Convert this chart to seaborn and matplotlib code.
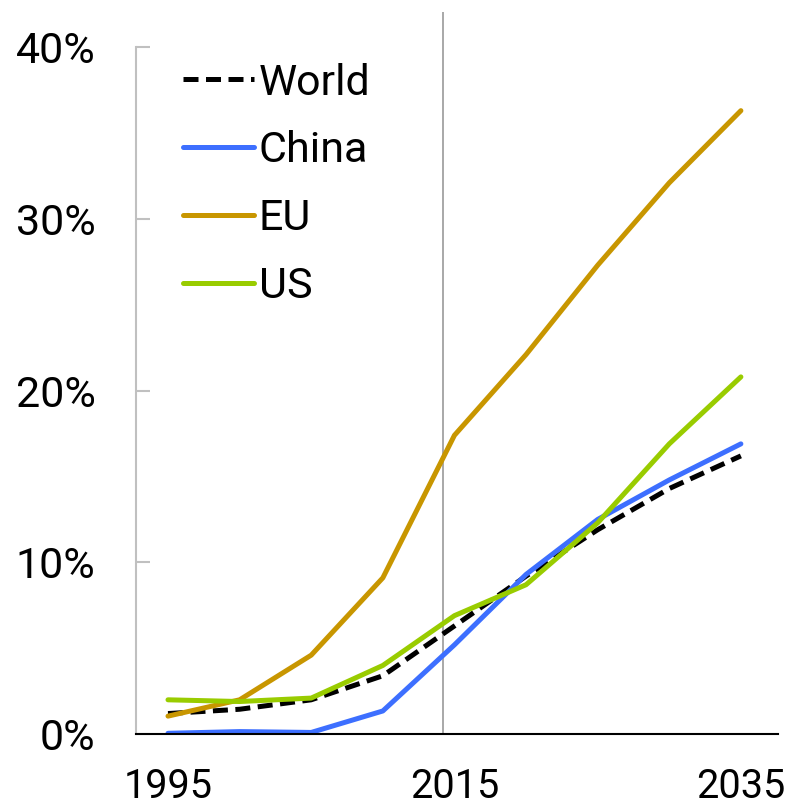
import matplotlib
matplotlib.use("Agg")
from matplotlib import pyplot as plt
import numpy as np
import pandas as pd
import seaborn as sb

#Data
years = [1995, 2000, 2005, 2010, 2015, 2020, 2025, 2030, 2035]
world = [1.2, 1.45, 2.0, 3.4, 6.3, 9.2, 11.9, 14.3, 16.2]
china = [0.05, 0.15, 0.1, 1.35, 5.2, 9.3, 12.5, 14.8, 16.9]
eu = [1.05, 2.0, 4.6, 9.1, 17.4, 22.1, 27.3, 32.1, 36.3]
us = [2.0, 1.9, 2.1, 4.0, 6.9, 8.7, 12.3, 16.9, 20.8]
series_names = ["World", "China", "EU", "US"]
y_ticks = [0, 10, 20, 30, 40]
x_ticks = [1995, 2015, 2035]
marker_year = 2014.2

df = pd.DataFrame({"year": years * 4,
                   "share": world + china + eu + us,
                   "region": np.repeat(series_names, len(years))})

sb.set_theme(style="white")
plt.rcParams['font.family'] = ['Roboto', 'DejaVu Sans']
plt.rcParams['text.color'] = 'black'

palette = {"World": "black", "China": "#3D6FFF", "EU": "#C89600", "US": "#99CC00"}
dashes = {"World": (3.0, 1.5), "China": "", "EU": "", "US": ""}

fig = plt.figure(figsize=(7.94, 8.05), dpi=100)
ax = fig.add_axes([0.171, 0.088, 0.809, 0.897])
ax.axvline(marker_year, color="#999999", lw=1.2, zorder=0)
sb.lineplot(data=df, x="year", y="share", hue="region", style="region",
            palette=palette, dashes=dashes, linewidth=3.6, ax=ax,
            hue_order=series_names, style_order=series_names)

ax.set_xlim(1992.75, 2037.6)
ax.set_ylim(0, 42.04)
ax.set_xticks(x_ticks)
ax.set_xticklabels([str(x) for x in x_ticks])
ax.set_yticks(y_ticks)
ax.set_yticklabels([f"{y}%" for y in y_ticks])
ax.set_xlabel("")
ax.set_ylabel("")
ax.tick_params(axis="x", bottom=False, length=0, labelsize=28.5, pad=24, labelcolor="black")
ax.tick_params(axis="y", left=True, direction="in", length=10, width=1.5, color="#C0C0C0",
               labelsize=31, pad=29, labelcolor="black")

for s in ["top", "right"]:
    ax.spines[s].set_visible(False)
ax.spines["left"].set_color("#C0C0C0")
ax.spines["left"].set_linewidth(1.5)
ax.spines["left"].set_bounds(0, 40)
ax.spines["bottom"].set_color("black")
ax.spines["bottom"].set_linewidth(1.5)

leg = ax.legend(loc="upper left", bbox_to_anchor=(0.047, 0.954), frameon=False,
                fontsize=31, handlelength=1.65, handletextpad=0.1, labelspacing=0.62,
                borderaxespad=0)
for h in leg.get_lines():
    h.set_linewidth(3.6)

fig.savefig("out.png", dpi=100)
